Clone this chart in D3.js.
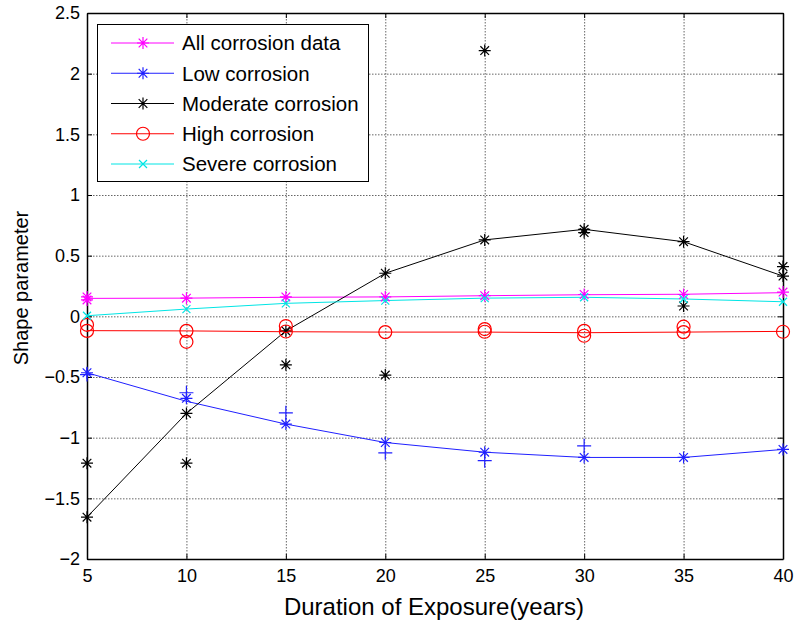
<!DOCTYPE html>
<html lang="en">
<head>
<meta charset="UTF-8">
<title>Shape parameter vs duration of exposure</title>
<script src="https://d3js.org/d3.v7.min.js"></script>
<style>
  body { margin: 0; background: #fff; }
  text { font-family: "Liberation Sans", Arial, sans-serif; fill: #000; }
</style>
</head>
<body>
<svg id="chart" width="799" height="628"></svg>
<script>
// data
const years = [5, 10, 15, 20, 25, 30, 35, 40];
const xTicks = [5, 10, 15, 20, 25, 30, 35, 40];
const yTicks = [-2, -1.5, -1, -0.5, 0, 0.5, 1, 1.5, 2, 2.5];

// fitted curves
const allFit = [0.148, 0.150, 0.157, 0.160, 0.170, 0.178, 0.182, 0.195];
const lowFit = [-0.465, -0.70, -0.888, -1.04, -1.12, -1.163, -1.163, -1.097];
const modFit = [-1.655, -0.80, -0.12, 0.355, 0.63, 0.717, 0.615, 0.332];
const highFit = [-0.118, -0.12, -0.127, -0.13, -0.13, -0.135, -0.13, -0.124];
const severeFit = [0.005, 0.06, 0.107, 0.13, 0.15, 0.157, 0.143, 0.12];

// observed points
const allPtYears = [5, 5, 10, 15, 20, 25, 30, 35, 40];
const allPtVals = [0.135, 0.16, 0.15, 0.16, 0.16, 0.17, 0.18, 0.18, 0.2];
const lowPtYears = [5, 10, 15, 20, 25, 30, 35, 40];
const lowPtVals = [-0.465, -0.676, -0.888, -1.04, -1.12, -1.163, -1.163, -1.097];
const lowPlusYears = [5, 10, 15, 20, 25, 30];
const lowPlusVals = [-0.48, -0.63, -0.795, -1.125, -1.19, -1.067];
const modPtYears = [5, 5, 10, 10, 15, 15, 20, 20, 25, 25, 30, 30, 35, 35, 40, 40];
const modPtVals = [-1.655, -1.21, -0.80, -1.21, -0.12, -0.40, 0.355, -0.484, 0.63, 2.19, 0.717, 0.69, 0.615, 0.085, 0.332, 0.41];
const highPtYears = [5, 5, 10, 10, 15, 15, 20, 25, 25, 30, 30, 35, 35, 40];
const highPtVals = [-0.07, -0.12, -0.12, -0.21, -0.08, -0.125, -0.13, -0.105, -0.127, -0.12, -0.16, -0.085, -0.13, -0.127];
const severePtYears = [5, 10, 15, 20, 25, 30, 35, 40];
const severePtVals = [0.005, 0.06, 0.107, 0.13, 0.15, 0.157, 0.143, 0.12];

const svg = d3.select("#chart");
const pLeft = 87, pRight = 783, pTop = 13, pBottom = 559;

const x = d3.scaleLinear().domain([5, 40]).range([pLeft, pRight]);
const y = d3.scaleLinear().domain([-2, 2.5]).range([pBottom, pTop]);

// grid
const grid = svg.append("g").attr("stroke", "#666").attr("stroke-width", 1)
  .attr("stroke-dasharray", "1.5,1.5");
grid.selectAll(".gx").data(xTicks.slice(1, -1)).enter().append("line")
  .attr("x1", d => x(d) + 0.5).attr("x2", d => x(d) + 0.5)
  .attr("y1", pTop).attr("y2", pBottom);
grid.selectAll(".gy").data(yTicks.slice(1, -1)).enter().append("line")
  .attr("y1", d => y(d) + 0.5).attr("y2", d => y(d) + 0.5)
  .attr("x1", pLeft).attr("x2", pRight);

// axes, MATLAB style (ticks inward on all four sides)
const xAxis = svg.append("g").attr("transform", `translate(0,${pBottom})`)
  .call(d3.axisBottom(x).tickValues(xTicks).tickSizeInner(-5).tickSizeOuter(0).tickPadding(10));
const yAxis = svg.append("g").attr("transform", `translate(${pLeft},0)`)
  .call(d3.axisLeft(y).tickValues(yTicks).tickSizeInner(-5).tickSizeOuter(0).tickPadding(7)
    .tickFormat(d => d3.format("")(d)));
svg.append("g").attr("transform", `translate(0,${pTop})`)
  .call(d3.axisTop(x).tickValues(xTicks).tickSizeInner(-5).tickSizeOuter(0).tickFormat(""));
svg.append("g").attr("transform", `translate(${pRight},0)`)
  .call(d3.axisRight(y).tickValues(yTicks).tickSizeInner(-5).tickSizeOuter(0).tickFormat(""));

svg.selectAll(".domain").attr("stroke", "#000").attr("stroke-width", 1.5);
svg.selectAll(".tick line").attr("stroke", "#000");
xAxis.selectAll("text").style("font-size", "18px").attr("font-family", null);
yAxis.selectAll("text").style("font-size", "18px").attr("font-family", null);

// axis titles
svg.append("text")
  .attr("x", (pLeft + pRight) / 2 - 1).attr("y", 615)
  .attr("text-anchor", "middle").style("font-size", "24px")
  .text("Duration of Exposure(years)");
svg.append("text")
  .attr("transform", `translate(28,${(pTop + pBottom) / 2 + 2}) rotate(-90)`)
  .attr("text-anchor", "middle").style("font-size", "20px")
  .text("Shape parameter");

// markers
function asterisk(g, cx, cy, color, r) {
  const d = r * 0.72;
  g.append("path")
    .attr("d", `M${cx - r},${cy}H${cx + r}M${cx},${cy - r}V${cy + r}` +
      `M${cx - d},${cy - d}L${cx + d},${cy + d}M${cx - d},${cy + d}L${cx + d},${cy - d}`)
    .attr("stroke", color).attr("stroke-width", 1.2).attr("fill", "none");
}
function plus(g, cx, cy, color, r) {
  g.append("path").attr("d", `M${cx - r},${cy}H${cx + r}M${cx},${cy - r}V${cy + r}`)
    .attr("stroke", color).attr("stroke-width", 1.2).attr("fill", "none");
}
function cross(g, cx, cy, color, r) {
  g.append("path").attr("d", `M${cx - r},${cy - r}L${cx + r},${cy + r}M${cx - r},${cy + r}L${cx + r},${cy - r}`)
    .attr("stroke", color).attr("stroke-width", 1.2).attr("fill", "none");
}
function circle(g, cx, cy, color, r) {
  g.append("circle").attr("cx", cx).attr("cy", cy).attr("r", r)
    .attr("stroke", color).attr("stroke-width", 1.2).attr("fill", "none");
}

const line = d3.line().x(d => x(d[0])).y(d => y(d[1]));
const series = [
  { name: "All corrosion data", color: "#ff00ff", fit: allFit, py: allPtYears, pv: allPtVals, mark: asterisk, size: 6 },
  { name: "Low corrosion", color: "#2020ff", fit: lowFit, py: lowPtYears, pv: lowPtVals, mark: asterisk, size: 6 },
  { name: "Moderate corrosion", color: "#000000", fit: modFit, py: modPtYears, pv: modPtVals, mark: asterisk, size: 6 },
  { name: "High corrosion", color: "#ff0000", fit: highFit, py: highPtYears, pv: highPtVals, mark: circle, size: 6.5 },
  { name: "Severe corrosion", color: "#00e5e5", fit: severeFit, py: severePtYears, pv: severePtVals, mark: cross, size: 4 }
];

const plot = svg.append("g");
series.forEach(s => {
  plot.append("path")
    .datum(years.map((yr, i) => [yr, s.fit[i]]))
    .attr("d", line).attr("fill", "none")
    .attr("stroke", s.color).attr("stroke-width", 1);
});
series.forEach(s => {
  s.py.forEach((yr, i) => s.mark(plot, x(yr), y(s.pv[i]), s.color, s.size));
});
lowPlusYears.forEach((yr, i) => plus(plot, x(yr), y(lowPlusVals[i]), "#2020ff", 7));

// legend
const legend = svg.append("g");
legend.append("rect").attr("x", 97.5).attr("y", 24.5).attr("width", 271).attr("height", 157)
  .attr("fill", "#fff").attr("stroke", "#000").attr("stroke-width", 1);
const rowY = d3.scalePoint().domain(series.map(s => s.name)).range([43, 164]);
series.forEach(s => {
  const yy = rowY(s.name);
  legend.append("line").attr("x1", 111).attr("x2", 174).attr("y1", yy).attr("y2", yy)
    .attr("stroke", s.color).attr("stroke-width", 1);
  s.mark(legend, 143, yy, s.color, s.size);
  legend.append("text").attr("x", 182).attr("y", yy).attr("dy", "0.36em")
    .style("font-size", "20.5px").text(s.name);
});
</script>
</body>
</html>
